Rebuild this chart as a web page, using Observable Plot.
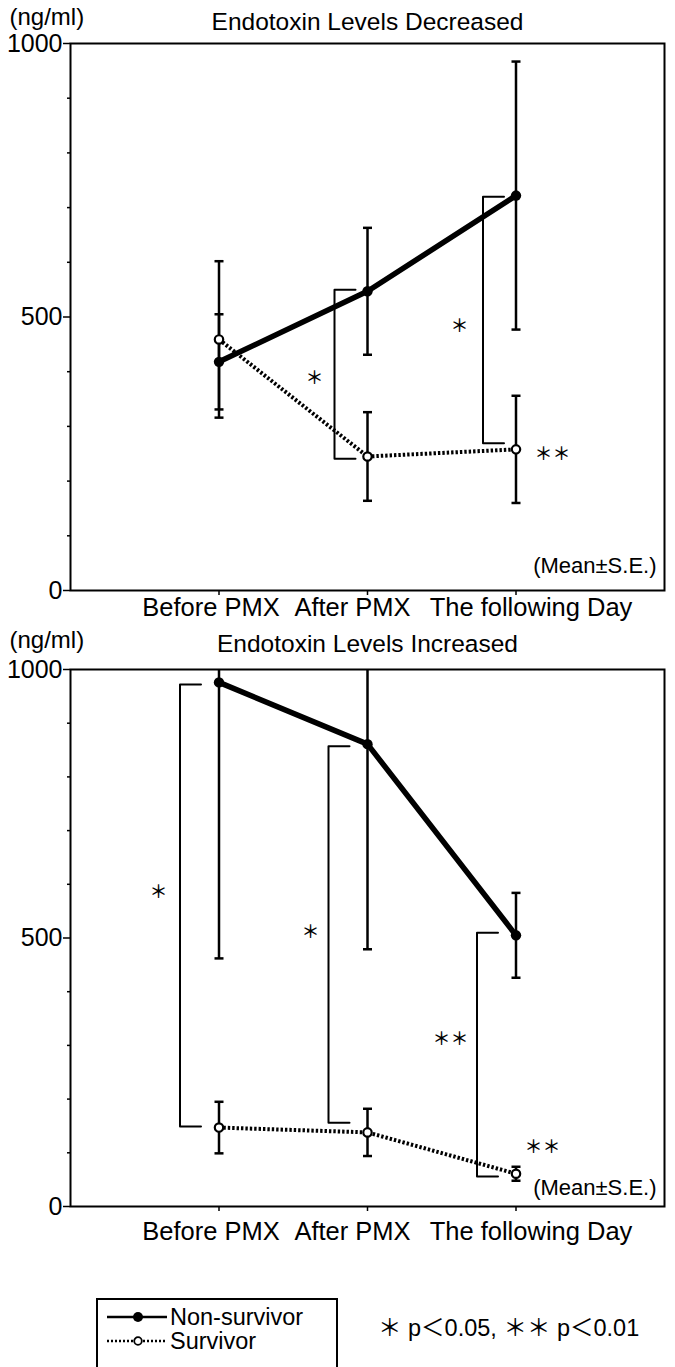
<!DOCTYPE html>
<html><head><meta charset="utf-8">
<script src="https://cdn.jsdelivr.net/npm/d3@7"></script>
<script src="https://cdn.jsdelivr.net/npm/@observablehq/plot@0.6"></script>
<style>
body{margin:0;background:#fff;width:675px;height:1367px;overflow:hidden;position:relative;font-family:"Liberation Sans",Arial,"Noto Sans CJK JP",sans-serif;color:#000;}
.abs{position:absolute;}
svg{overflow:visible}
#legend{left:96px;top:1298px;width:242px;height:90px;border:2px solid #000;box-sizing:border-box;}
.row{position:absolute;left:9px;display:flex;align-items:center;font-size:23.5px;line-height:24px;height:24px;white-space:nowrap}
</style></head><body>
<div id="p1" class="abs" style="left:0;top:0"></div>
<div id="p2" class="abs" style="left:0;top:620px"></div>
<div id="legend" class="abs">
  <div class="row" style="top:5px"><svg width="60" height="12"><line x1="0" y1="6" x2="60" y2="6" stroke="#000" stroke-width="2.5"/><circle cx="31" cy="6" r="5" fill="#000"/></svg><span style="margin-left:3px">Non-survivor</span></div>
  <div class="row" style="top:29px"><svg width="60" height="12"><line x1="0" y1="6" x2="60" y2="6" stroke="#000" stroke-width="2.4" stroke-dasharray="2,2"/><circle cx="31" cy="6" r="3.8" fill="#fff" stroke="#000" stroke-width="1.8"/></svg><span style="margin-left:3px">Survivor</span></div>
</div>
<div class="abs" style="left:378px;top:1309px;font-size:23.5px;white-space:nowrap">＊ p＜0.05, ＊＊ p＜0.01</div>
<script>
const categories = ["Before PMX", "After PMX", "The following Day"];
const yMajorTicks = [0, 500, 1000];
const yMinorTicks = [100, 200, 300, 400, 600, 700, 800, 900];

// Endotoxin Levels Decreased
const decTitle = "Endotoxin Levels Decreased";
const decNonMean = [418, 547, 722];
const decNonSE = [87, 116, 245];
const decSurMean = [459, 245, 258];
const decSurSE = [143, 81, 98];
const decBrackets = [{x: 2, top: 550, bottom: 241}, {x: 3, top: 720, bottom: 269}];
const decStars = [{x: 1.643, y: 388, label: "＊"}, {x: 2.62, y: 483, label: "＊"}, {x: 3.246, y: 250, label: "＊＊"}];

// Endotoxin Levels Increased
const incTitle = "Endotoxin Levels Increased";
const incNonMean = [976, 861, 505];
const incNonSE = [514, 382, 79];
const incSurMean = [147, 138, 61];
const incSurSE = [48, 44, 13];
const incBrackets = [{x: 1, top: 972, bottom: 149}, {x: 2, top: 857, bottom: 156}, {x: 3, top: 510, bottom: 56}];
const incStars = [{x: 0.593, y: 585, label: "＊"}, {x: 1.616, y: 510, label: "＊"}, {x: 2.559, y: 311, label: "＊＊"}, {x: 3.178, y: 110, label: "＊＊"}];

const capSymbol = {draw(ctx) { ctx.moveTo(-4.5, 0); ctx.lineTo(4.5, 0); }};
const FONT = '"Liberation Sans", Arial, "Noto Sans CJK JP", sans-serif';
const labelShift = [-8, -15, 15]; // horizontal offset (px) of each category label from its tick

function panel({title, nonMean, nonSE, surMean, surSE, brackets, stars, marginTop, plotH, marginBottom, bracketDx, noteDy, titleDy, unitDy, labelDy}) {
  const rows = (m, s) => categories.map((c, i) => ({x: i + 1, mean: m[i], lo: m[i] - s[i], hi: m[i] + s[i]}));
  const nonRows = rows(nonMean, nonSE);
  const surRows = rows(surMean, surSE);
  const unit = 594 / 4; // px per category step
  const arm = 21 / unit;
  const bracketPts = brackets.flatMap((b, k) => [
    {k, x: b.x + arm, y: b.top}, {k, x: b.x, y: b.top}, {k, x: b.x, y: b.bottom}, {k, x: b.x + arm, y: b.bottom}
  ]);
  return Plot.plot({
    width: 675,
    height: marginTop + plotH + marginBottom,
    marginLeft: 70, marginRight: 11, marginTop, marginBottom,
    x: {domain: [0, 4], axis: null},
    y: {domain: [0, 1000], axis: null},
    style: {fontFamily: FONT, fontSize: "25px", background: "transparent", overflow: "visible", color: "black"},
    marks: [
      Plot.axisY({ticks: yMinorTicks, tickSize: 3, tickFormat: () => "", strokeWidth: 1.5}),
      Plot.axisY({ticks: yMajorTicks, tickSize: 7, tickPadding: 1, tickFormat: d => String(d), strokeWidth: 1.5, label: null}),
      Plot.axisX({ticks: [1, 2, 3], tickFormat: () => "", tickSize: 5, strokeWidth: 1.5, label: null}),
      ...categories.map((c, i) => Plot.text([c], {x: () => i + 1, text: d => d, frameAnchor: "bottom", lineAnchor: "middle", dy: labelDy, dx: labelShift[i], fontSize: 25.5})),
      Plot.frame({strokeWidth: 2}),
      Plot.line(bracketPts, {x: "x", y: "y", z: "k", dx: bracketDx, strokeWidth: 2}),
      Plot.ruleX(nonRows, {x: "x", y1: "lo", y2: "hi", strokeWidth: 2.5, clip: true}),
      Plot.ruleX(surRows, {x: "x", y1: "lo", y2: "hi", strokeWidth: 2.5, clip: true}),
      Plot.dot(nonRows, {x: "x", y: "lo", symbol: capSymbol, stroke: "black", strokeWidth: 2.5, clip: true}),
      Plot.dot(nonRows, {x: "x", y: "hi", symbol: capSymbol, stroke: "black", strokeWidth: 2.5, clip: true}),
      Plot.dot(surRows, {x: "x", y: "lo", symbol: capSymbol, stroke: "black", strokeWidth: 2.5, clip: true}),
      Plot.dot(surRows, {x: "x", y: "hi", symbol: capSymbol, stroke: "black", strokeWidth: 2.5, clip: true}),
      Plot.line(surRows, {x: "x", y: "mean", strokeWidth: 4, strokeDasharray: "2.4,2", strokeLinecap: "butt"}),
      Plot.line(nonRows, {x: "x", y: "mean", strokeWidth: 5.5}),
      Plot.dot(surRows, {x: "x", y: "mean", r: 4.2, fill: "white", stroke: "black", strokeWidth: 2.2}),
      Plot.dot(nonRows, {x: "x", y: "mean", r: 5.2, fill: "black"}),
      Plot.text(stars, {x: "x", y: "y", text: "label", fontSize: 18, fontWeight: 500, fontFamily: '"Noto Sans CJK JP", sans-serif'}),
      Plot.text([title], {frameAnchor: "top", lineAnchor: "middle", dy: titleDy, fontSize: 24.5}),
      Plot.text(["(ng/ml)"], {frameAnchor: "top-left", lineAnchor: "middle", textAnchor: "start", dx: -61, dy: unitDy, fontSize: 24}),
      Plot.text(["(Mean±S.E.)"], {frameAnchor: "bottom-right", lineAnchor: "middle", textAnchor: "end", dx: -8, dy: noteDy, fontSize: 22})
    ]
  });
}

document.getElementById("p1").append(panel({
  title: decTitle, nonMean: decNonMean, nonSE: decNonSE, surMean: decSurMean, surSE: decSurSE,
  brackets: decBrackets, stars: decStars, marginTop: 43, plotH: 547, marginBottom: 30,
  bracketDx: -33, noteDy: -25, titleDy: -21, unitDy: -26, labelDy: 17
}));
document.getElementById("p2").append(panel({
  title: incTitle, nonMean: incNonMean, nonSE: incNonSE, surMean: incSurMean, surSE: incSurSE,
  brackets: incBrackets, stars: incStars, marginTop: 49, plotH: 537, marginBottom: 40,
  bracketDx: -39, noteDy: -19, titleDy: -25, unitDy: -29, labelDy: 25
}));
</script>
</body></html>
